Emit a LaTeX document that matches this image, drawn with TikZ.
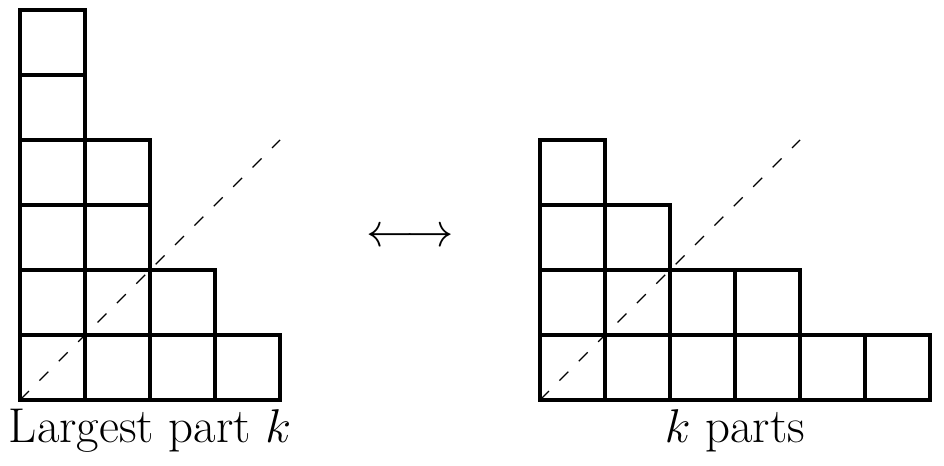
\documentclass[tikz,border=0pt]{standalone}
\begin{document}
\begin{tikzpicture}[x=1cm,y=1cm,
  cell/.style={line width=1.6pt},
  diag/.style={dash pattern=on 5.5pt off 6.5pt,line width=0.6pt},
  lbl/.style={font=\fontsize{21.4}{25}\selectfont, inner sep=0pt}]
\useasboundingbox (-0.308,-1.0) rectangle (14.215,6.154);
% left diagram: columns of heights 6,4,2,1
\foreach \c/\h in {0/6,1/4,2/2,3/1}{
  \foreach \r in {1,...,\h}{
    \draw[cell] (\c,\r-1) rectangle ++(1,1);
  }
}
\coordinate (L0) at (0,0);
\coordinate (L1) at (4,4);
\draw[diag] (L0) -- (L1);
% right diagram: rows of lengths 6,4,2,1
\foreach \r/\w in {0/6,1/4,2/2,3/1}{
  \foreach \c in {1,...,\w}{
    \draw[cell] (8+\c-1,\r) rectangle ++(1,1);
  }
}
\coordinate (R0) at (8,0);
\coordinate (R1) at (12,4);
\draw[diag] (R0) -- (R1);
\node[inner sep=0pt, font=\fontsize{20}{24}\selectfont] (arrow) at (6,2.5) {$\longleftrightarrow$};
\node[lbl, anchor=base] (leftlabel) at (2,-0.66) {Largest part $k$};
\node[lbl, anchor=base] (rightlabel) at (11,-0.66) {$k$ parts};
\end{tikzpicture}
\end{document}
